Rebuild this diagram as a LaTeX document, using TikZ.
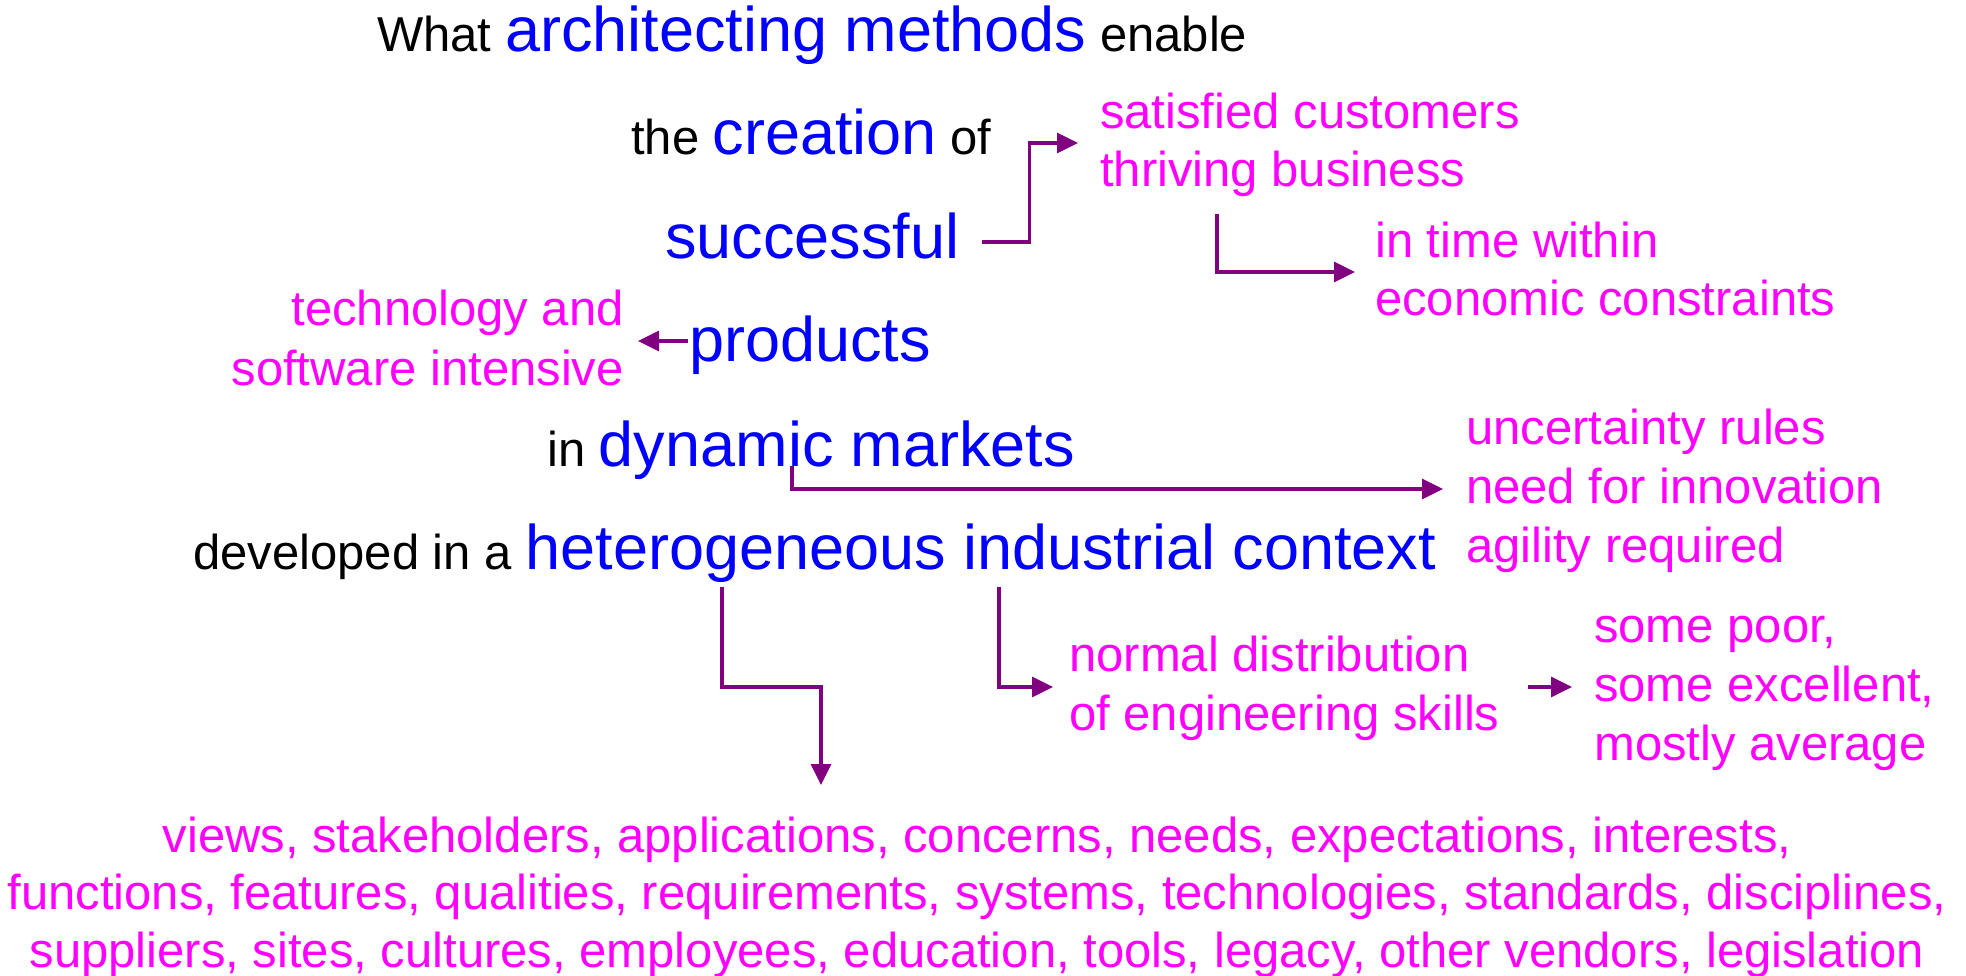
\documentclass[tikz,border=0pt]{standalone}
\usepackage{fontspec}
\setmainfont{Liberation Sans}
\usepackage{tikz}
\usetikzlibrary{arrows.meta}
\definecolor{linkpurple}{RGB}{128,0,128}
\definecolor{notemagenta}{RGB}{255,0,255}
\definecolor{keyblue}{RGB}{0,0,255}
\newcommand{\kw}[1]{{\color{keyblue}\fontsize{63}{70}\selectfont #1}}

\begin{document}
\begin{tikzpicture}[x=1pt, y=-1pt,
    txt/.style={inner sep=0pt, font=\fontsize{49}{58.7}\selectfont},
    note/.style={txt, text=notemagenta, align=left},
    link/.style={draw=linkpurple, line width=3.3pt, -{Triangle[length=21pt,width=20pt]}}]

        \useasboundingbox (0,0) rectangle (1966,976);

        % the question, line by line
        \node[txt, anchor=base west] (q1) at (377,52) {What \kw{architecting methods} enable};
        \node[txt, anchor=base west] (q2) at (631,155) {the \kw{creation} of};
        \node[txt, anchor=base west] (q3) at (665,259) {\kw{successful}};
        \node[txt, anchor=base west] (q4) at (689,362) {\kw{products}};
        \node[txt, anchor=base west] (q5) at (547,466) {in \kw{dynamic markets}};
        \node[txt, anchor=base west] (q6) at (193,569) {developed in a \kw{heterogeneous industrial context}};

        % remarks (base = last line)
        \node[note, anchor=base west] (sat) at (1100,187) {satisfied customers\\thriving business};
        \node[note, anchor=base west] (time) at (1375,316) {in time within\\economic constraints};
        \node[note, anchor=base east, align=right, font=\fontsize{49}{60}\selectfont] (tech) at (624,385) {technology and\\software intensive};
        \node[note, anchor=base west] (unc) at (1466,562) {uncertainty rules\\need for innovation\\agility required};
        \node[note, anchor=base west] (norm) at (1069,730) {normal distribution\\of engineering skills};
        \node[note, anchor=base west] (poor) at (1594,760) {some poor,\\some excellent,\\mostly average};
        \node[note, anchor=base, align=center, font=\fontsize{49}{57.5}\selectfont] (list) at (977,967) {views, stakeholders, applications, concerns, needs, expectations, interests,\\functions, features, qualities, requirements, systems, technologies, standards, disciplines,\\suppliers, sites, cultures, employees, education, tools, legacy, other vendors, legislation};

        % links
        \draw[link] ([xshift=22pt,yshift=17pt]q3.base east) -- ++(48,0) |- ([xshift=-22pt,yshift=44pt]sat.base west);
        \draw[link] ([xshift=117pt,yshift=-27pt]sat.base west) |- ([xshift=-20pt,yshift=44pt]time.base west);
        \draw[link] ([xshift=-1pt,yshift=21pt]q4.base west) -- ([xshift=14pt,yshift=44pt]tech.base east);
        \draw[link] ([xshift=245pt]q5.base west) |- ([xshift=-23pt,yshift=73pt]unc.base west);
        \draw[link] ([xshift=529pt,yshift=-18pt]q6.base west) -- ++(0,100) -| ([xshift=-156pt,yshift=182pt]list.base);
        \draw[link] ([xshift=806pt,yshift=-18pt]q6.base west) |- ([xshift=-16pt,yshift=43pt]norm.base west);
        \draw[link] ([xshift=-66pt,yshift=73pt]poor.base west) -- ++(44,0);
\end{tikzpicture}
\end{document}
